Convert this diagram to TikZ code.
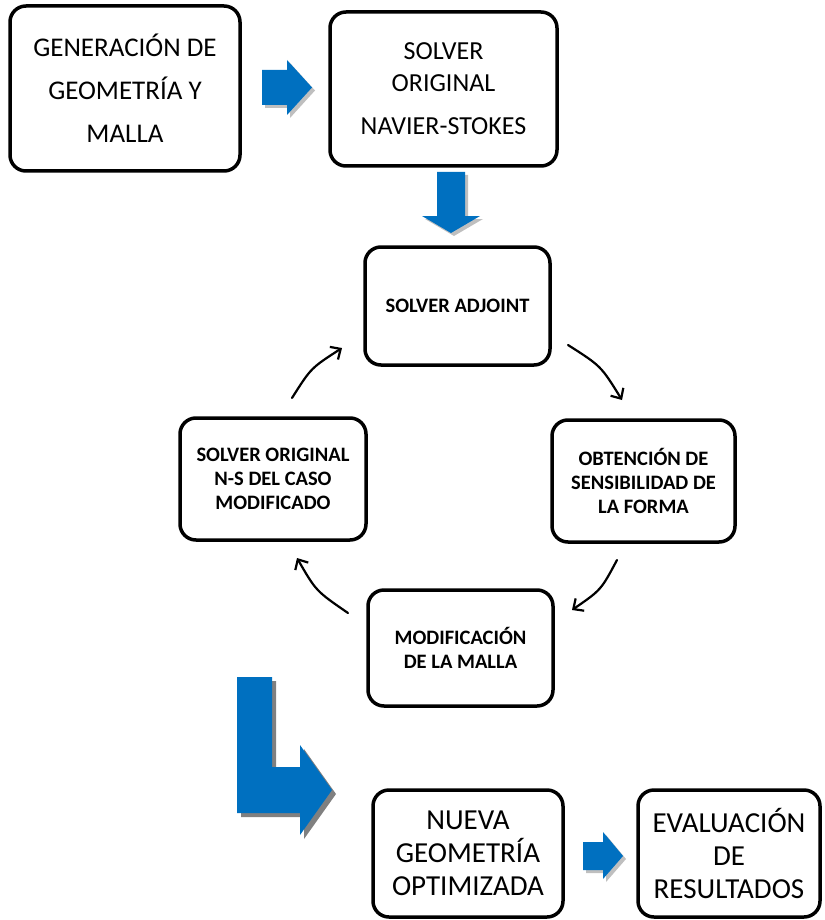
\documentclass[tikz,border=0pt]{standalone}
\usepackage{fontspec}
\setmainfont{Carlito}
\usetikzlibrary{arrows.meta}
\definecolor{arrowblue}{HTML}{0070C0}
\newcommand\pathRightA{(262,70)--(287,70)--(287,60)--(312,87.5)--(287,115)--(287,105)--(262,105)--cycle}
\newcommand\pathDownA{(437,172)--(465,172)--(465,216)--(480,216)--(451,233)--(422,216)--(437,216)--cycle}
\newcommand\pathBigL{(237,677)--(272,677)--(272,767)--(300,767)--(300,745)--(332,790)--(300,835)--(300,813)--(237,813)--cycle}
\newcommand\pathRightB{(583,842)--(603,842)--(603,832)--(623,856)--(603,879)--(603,870)--(583,870)--cycle}
\begin{document}
\begin{tikzpicture}[x=1pt,y=-1pt,
  box/.style={draw=black, line width=3.5pt, rounded corners=16pt, align=center, inner sep=0pt, fill=white},
  bigA/.style={font=\fontsize{27}{43}\selectfont},
  bigB/.style={font=\fontsize{26}{32}\selectfont},
  bigC/.style={font=\fontsize{29}{33}\selectfont},
  smallb/.style={font=\fontsize{20.5}{24}\selectfont\bfseries},
  cyc/.style={-{Straight Barb[length=8pt,width=15pt,line width=2.2pt]}, line width=2.2pt, line cap=round},
  blk/.style={fill=arrowblue},
  shd/.style={fill=black, opacity=0.25}]
\useasboundingbox (0,0) rectangle (824,920);

% boxes
\node[box, bigA, minimum width=230pt, minimum height=165pt] (gen) at (125,88.5)
  {GENERACIÓN DE\\GEOMETRÍA Y\\MALLA};
\node[box, bigB, minimum width=227pt, minimum height=154pt] (ns) at (443.5,89)
  {SOLVER\\ORIGINAL\\[11pt]NAVIER-STOKES};
\node[box, smallb, minimum width=185pt, minimum height=118pt] (adj) at (457.5,306)
  {SOLVER ADJOINT};
\node[box, smallb, minimum width=183pt, minimum height=122pt] (sens) at (643.5,481)
  {OBTENCIÓN DE\\SENSIBILIDAD DE\\LA FORMA};
\node[box, smallb, minimum width=186pt, minimum height=122pt] (mod) at (273,479)
  {SOLVER ORIGINAL\\N-S DEL CASO\\MODIFICADO};
\node[box, smallb, minimum width=185pt, minimum height=116pt] (malla) at (460.5,648)
  {MODIFICACIÓN\\DE LA MALLA};
\node[box, bigC, minimum width=190pt, minimum height=127pt] (nueva) at (468,853.5)
  {NUEVA\\GEOMETRÍA\\OPTIMIZADA};
\node[box, bigC, minimum width=182pt, minimum height=127pt] (eval) at (729,853.5)
  {EVALUACIÓN\\DE\\RESULTADOS};

% block arrows with shadows
\fill[shd, xshift=3pt, yshift=-3pt] \pathRightA;
\fill[blk] \pathRightA;
\fill[shd, xshift=3pt, yshift=-3pt] \pathDownA;
\fill[blk] \pathDownA;
\fill[black!50, xshift=4pt, yshift=-4pt] \pathBigL;
\fill[blk] \pathBigL;
\fill[shd, xshift=3pt, yshift=-3pt] \pathRightB;
\fill[blk] \pathRightB;

% cycle arrows
\coordinate (c1s) at (292,398); \coordinate (c1e) at (342,348);
\coordinate (c2s) at (568,345); \coordinate (c2e) at (622,400);
\coordinate (c3s) at (617,560); \coordinate (c3e) at (572,610);
\coordinate (c4s) at (348,613); \coordinate (c4e) at (297,558);
\draw[cyc] (c1s) .. controls (311,368) .. (c1e);
\draw[cyc] (c2s) .. controls (601,366) .. (c2e);
\draw[cyc] (c3s) .. controls (601,590) .. (c3e);
\draw[cyc] (c4s) .. controls (316,591) .. (c4e);
\end{tikzpicture}
\end{document}
